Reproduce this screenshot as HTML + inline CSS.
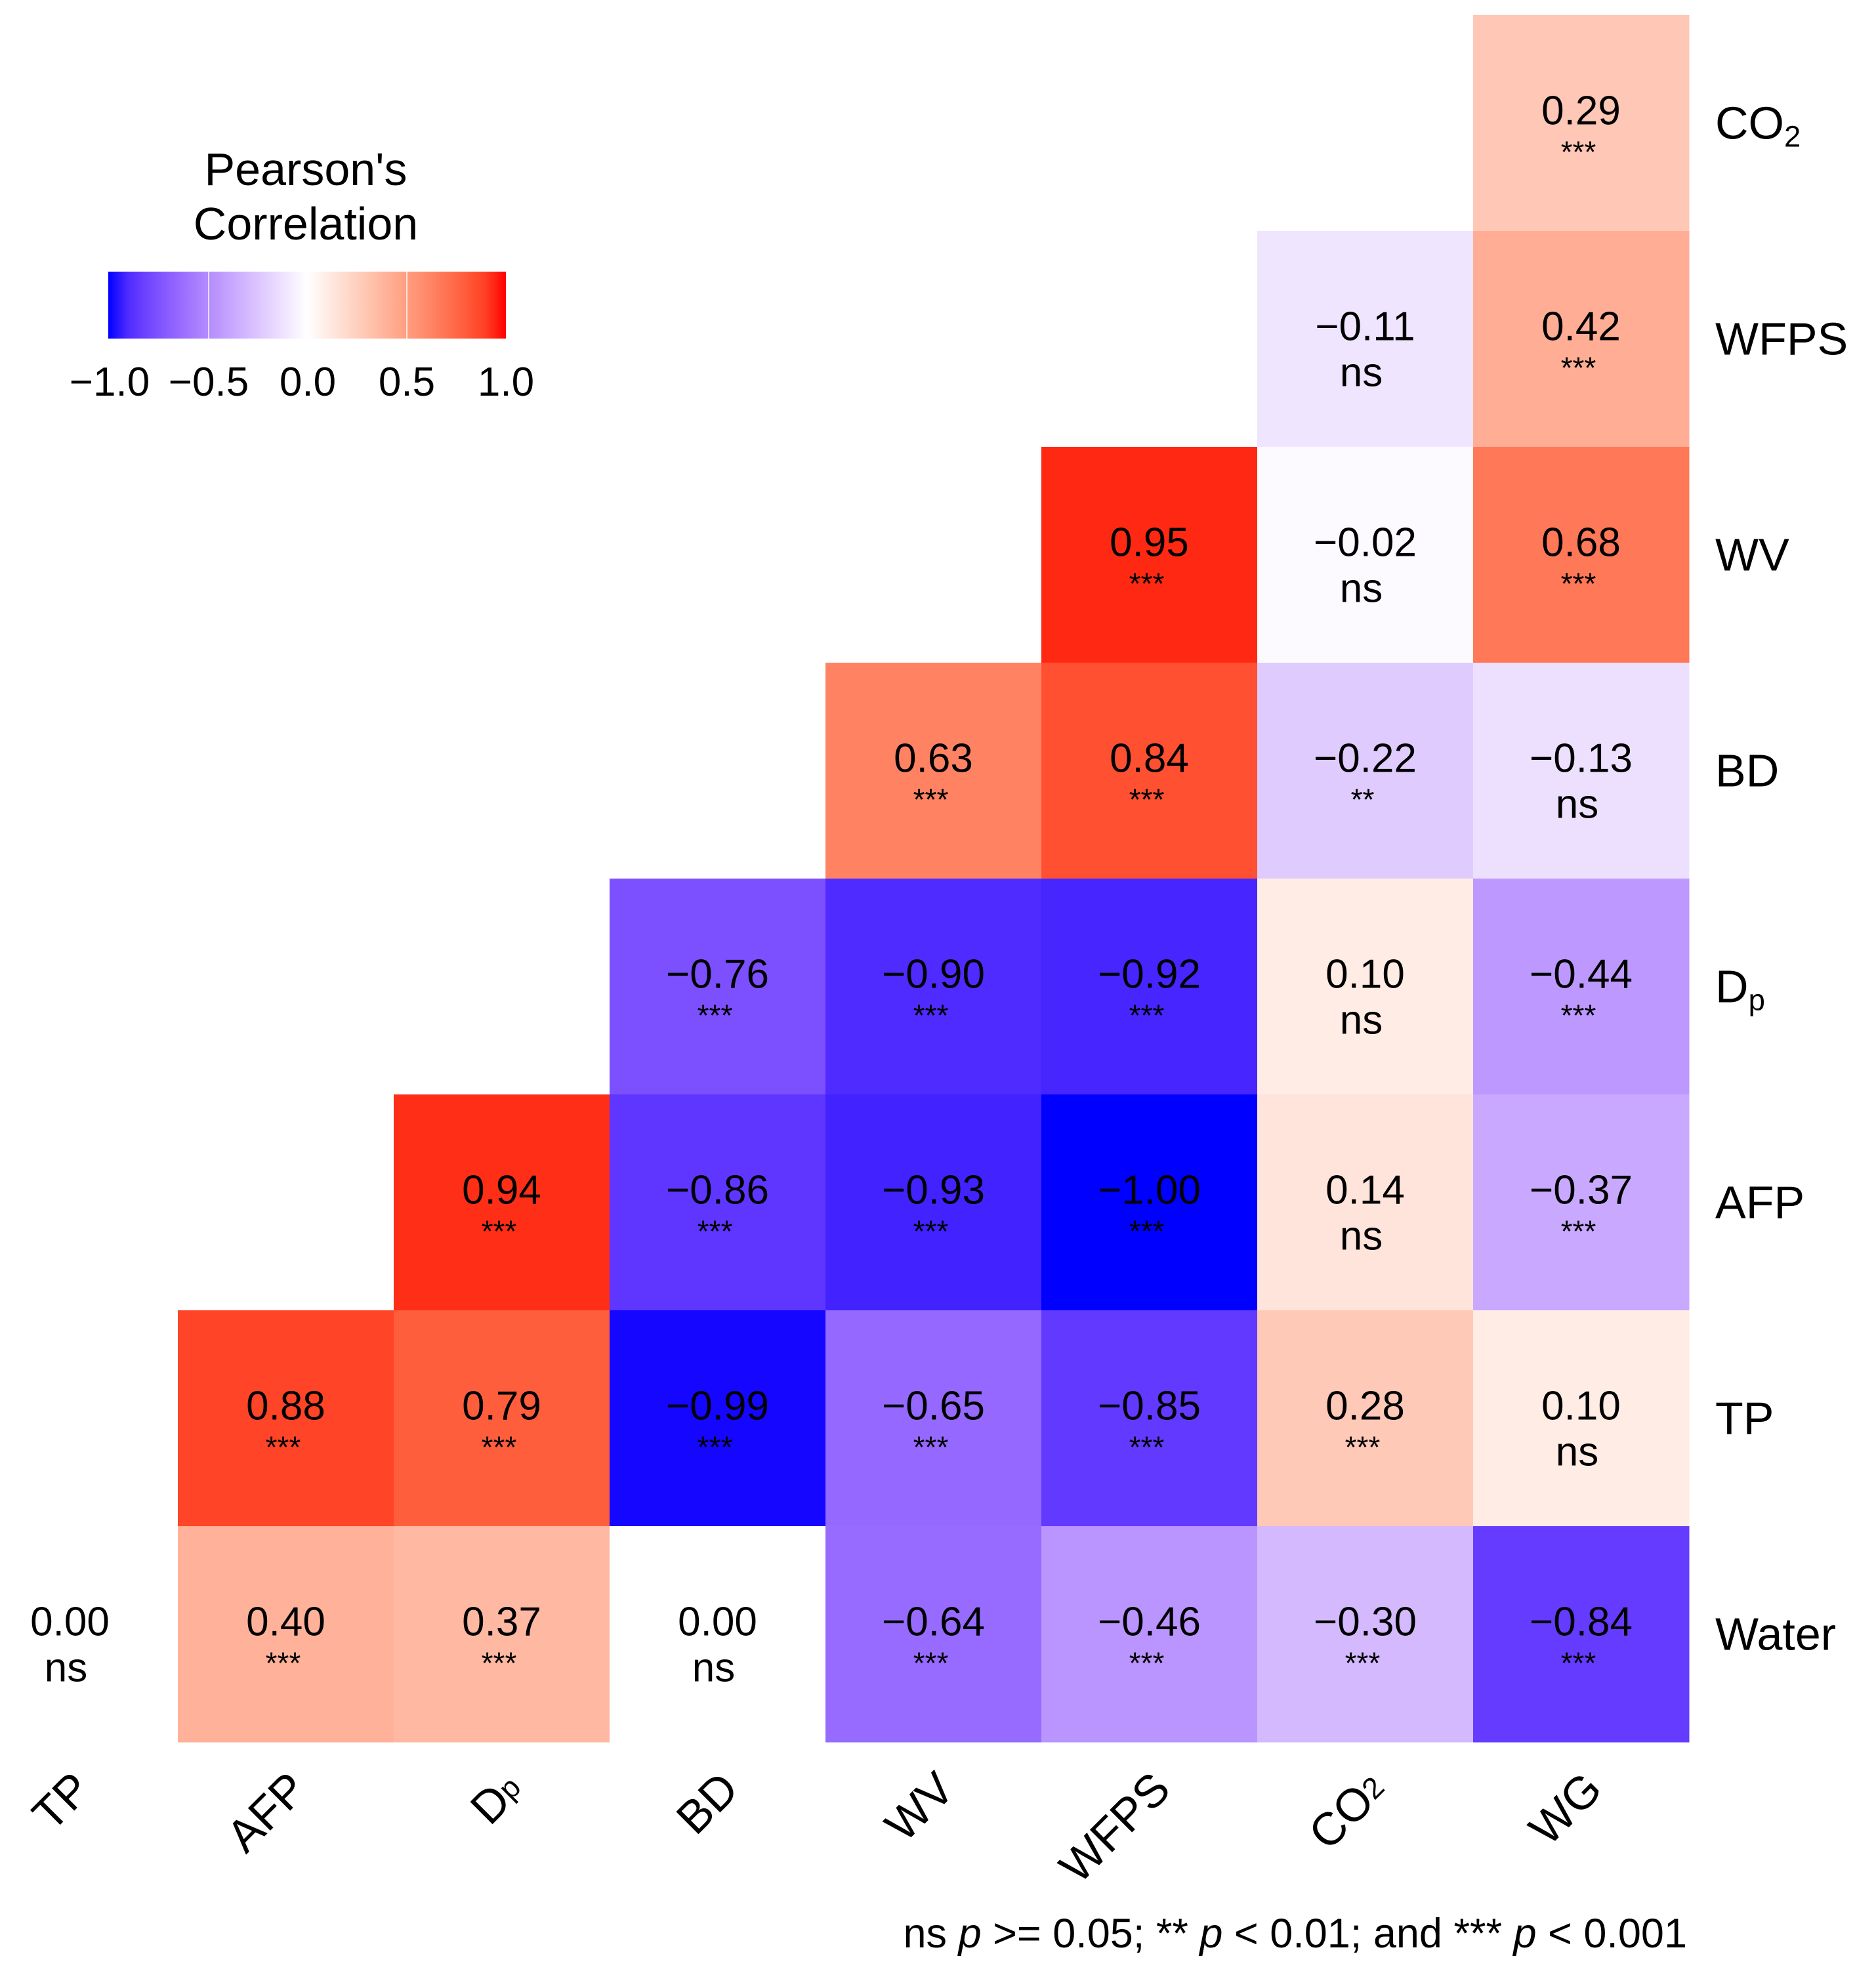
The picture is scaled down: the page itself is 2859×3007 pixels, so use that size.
<!DOCTYPE html>
<html><head><meta charset="utf-8"><style>
html,body{margin:0;padding:0;background:#fff;}
svg{display:block;font-family:"Liberation Sans",Arial,sans-serif;}
</style></head><body>
<svg id="chart" width="2859" height="3007" viewBox="0 0 2859 3007" xmlns="http://www.w3.org/2000/svg">
<defs>
<linearGradient id="cbar" x1="0" x2="1" y1="0" y2="0"></linearGradient>
</defs>
<g id="cells"></g>
<g id="labels"></g>
<g id="legend">
<text x="466" y="282" font-size="70" text-anchor="middle">Pearson's</text>
<text x="466" y="365" font-size="70" text-anchor="middle">Correlation</text>
<rect x="165" y="414" width="606" height="102" fill="url(#cbar)"/>
</g>
<text x="2571" y="2968" font-size="63" text-anchor="end">ns <tspan font-style="italic">p</tspan> &gt;= 0.05; ** <tspan font-style="italic">p</tspan> &lt; 0.01; and *** <tspan font-style="italic">p</tspan> &lt; 0.001</text>
</svg>
<script>
// Data
const colLabels = ["TP","AFP","Dp","BD","WV","WFPS","CO2","WG"];
const rowLabels = ["CO2","WFPS","WV","BD","Dp","AFP","TP","Water"];
const rowCO2 = [0.29];
const rowWFPS = [-0.11, 0.42];
const rowWV = [0.95, -0.02, 0.68];
const rowBD = [0.63, 0.84, -0.22, -0.13];
const rowDp = [-0.76, -0.90, -0.92, 0.10, -0.44];
const rowAFP = [0.94, -0.86, -0.93, -1.00, 0.14, -0.37];
const rowTP = [0.88, 0.79, -0.99, -0.65, -0.85, 0.28, 0.10];
const rowWater = [0.00, 0.40, 0.37, 0.00, -0.64, -0.46, -0.30, -0.84];
const sigCO2 = ["***"];
const sigWFPS = ["ns","***"];
const sigWV = ["***","ns","***"];
const sigBD = ["***","***","**","ns"];
const sigDp = ["***","***","***","ns","***"];
const sigAFP = ["***","***","***","***","ns","***"];
const sigTP = ["***","***","***","***","***","***","ns"];
const sigWater = ["ns","***","***","ns","***","***","***","***"];
const legendTicks = [-1.0, -0.5, 0.0, 0.5, 1.0];

const values = [rowCO2,rowWFPS,rowWV,rowBD,rowDp,rowAFP,rowTP,rowWater];
const sigs = [sigCO2,sigWFPS,sigWV,sigBD,sigDp,sigAFP,sigTP,sigWater];

const NS="http://www.w3.org/2000/svg";
const X0=-58, Y0=23, CELL=329;
const xPos = c => X0 + c*CELL;
const yPos = r => Y0 + r*CELL;

function srgb2lin(c){c/=255;return c<=0.04045?c/12.92:Math.pow((c+0.055)/1.055,2.4);}
function lin2srgb(c){c=c<=0.0031308?12.92*c:1.055*Math.pow(c,1/2.4)-0.055;return Math.max(0,Math.min(255,Math.round(c*255)));}
function toLab(r,g,b){r=srgb2lin(r);g=srgb2lin(g);b=srgb2lin(b);
 let x=(0.4124*r+0.3576*g+0.1805*b)/0.95047,y=0.2126*r+0.7152*g+0.0722*b,z=(0.0193*r+0.1192*g+0.9505*b)/1.08883;
 const f=t=>t>0.008856?Math.cbrt(t):7.787*t+16/116;
 return [116*f(y)-16,500*(f(x)-f(y)),200*(f(y)-f(z))];}
function fromLab(L,a,bb){let fy=(L+16)/116,fx=fy+a/500,fz=fy-bb/200;
 const fi=t=>t*t*t>0.008856?t*t*t:(t-16/116)/7.787;
 let x=fi(fx)*0.95047,y=fi(fy),z=fi(fz)*1.08883;
 let r=3.2406*x-1.5372*y-0.4986*z,g=-0.9689*x+1.8758*y+0.0415*z,b=0.0557*x-0.2040*y+1.0570*z;
 return "rgb("+lin2srgb(r)+","+lin2srgb(g)+","+lin2srgb(b)+")";}
const LB=toLab(0,0,255), LW=toLab(255,255,255), LR=toLab(255,0,0);
function color(v){const t=Math.abs(v);const e=v<0?LB:LR;
 return fromLab(LW[0]+(e[0]-LW[0])*t,LW[1]+(e[1]-LW[1])*t,LW[2]+(e[2]-LW[2])*t);}

const cells=document.getElementById('cells');
values.forEach((row,r)=>{
 const start = 8-row.length;
 row.forEach((v,i)=>{
  const c=start+i;
  const rect=document.createElementNS(NS,'rect');
  rect.setAttribute('x',xPos(c));rect.setAttribute('y',yPos(r));
  rect.setAttribute('width',CELL+0.5);rect.setAttribute('height',CELL+0.5);
  rect.setAttribute('fill',(r===7&&(c===0||c===3))?'#ffffff':color(v));
  
  
  cells.appendChild(rect);
 });
});
values.forEach((row,r)=>{
 const start = 8-row.length;
 row.forEach((v,i)=>{
  const c=start+i;
  const cx=xPos(c)+CELL/2, cy=yPos(r)+CELL/2;
  const s=sigs[r][i];
  const t=document.createElementNS(NS,'text');
  t.setAttribute('x',cx);t.setAttribute('y',cy+2);
  t.setAttribute('text-anchor','middle');t.setAttribute('font-size','62');
  t.textContent=(v<0?'\u2212':'')+Math.abs(v).toFixed(2);
  
  
  cells.appendChild(t);
  const u=document.createElementNS(NS,'text');
  u.setAttribute('text-anchor','middle');
  if(s==='ns'){u.setAttribute('x',cx-6);u.setAttribute('y',cy+72);u.setAttribute('font-size','62');}
  else{u.setAttribute('x',cx-4);u.setAttribute('y',cy+60);u.setAttribute('font-size','46');}
  u.textContent=s;
  
  
  cells.appendChild(u);
 });
});

function labelContent(el,name){
 if(name==='CO2'){el.appendChild(document.createTextNode('CO'));const ts=document.createElementNS(NS,'tspan');ts.setAttribute('font-size','0.65em');ts.setAttribute('dy','12');ts.textContent='2';el.appendChild(ts);}
 else if(name==='Dp'){el.appendChild(document.createTextNode('D'));const ts=document.createElementNS(NS,'tspan');ts.setAttribute('font-size','0.65em');ts.setAttribute('dy','12');ts.textContent='p';el.appendChild(ts);}
 else el.textContent=name;
}
const labels=document.getElementById('labels');
rowLabels.forEach((n,r)=>{
 const t=document.createElementNS(NS,'text');
 t.setAttribute('x',2614);t.setAttribute('y',yPos(r)+CELL/2+24);
 t.setAttribute('font-size','70');
 labelContent(t,n);
 
 
 labels.appendChild(t);
});
colLabels.forEach((n,c)=>{
 const ax=xPos(c)+CELL/2, ay=2695;
 const t=document.createElementNS(NS,'text');
 t.setAttribute('x',ax);t.setAttribute('y',ay);
 t.setAttribute('text-anchor','end');t.setAttribute('dominant-baseline','hanging');
 t.setAttribute('font-size','70');
 t.setAttribute('transform','rotate(-45 '+ax+' '+ay+')');
 labelContent(t,n);
 
 
 labels.appendChild(t);
});

const grad=document.getElementById('cbar');
for(let k=0;k<=20;k++){
 const v=-1+k*0.1;
 const st=document.createElementNS(NS,'stop');
 st.setAttribute('offset',(k/20));st.setAttribute('stop-color',color(v));
 grad.appendChild(st);
}
const legend=document.getElementById('legend');
const lx = v => 167 + (v+1)/2*604;
legendTicks.forEach(v=>{
 if(v>-1&&v<1){
  const l=document.createElementNS(NS,'line');
  l.setAttribute('x1',lx(v));l.setAttribute('x2',lx(v));l.setAttribute('y1',414);l.setAttribute('y2',516);
  l.setAttribute('stroke','#fff');l.setAttribute('stroke-width','2');l.setAttribute('opacity','0.7');
  
  
  legend.appendChild(l);
 }
 const t=document.createElementNS(NS,'text');
 t.setAttribute('x',lx(v));t.setAttribute('y',603);
 t.setAttribute('text-anchor','middle');t.setAttribute('font-size','62');
 t.textContent=(v<0?'\u2212':'')+Math.abs(v).toFixed(1);
 
 
 legend.appendChild(t);
});
</script>
</body></html>
